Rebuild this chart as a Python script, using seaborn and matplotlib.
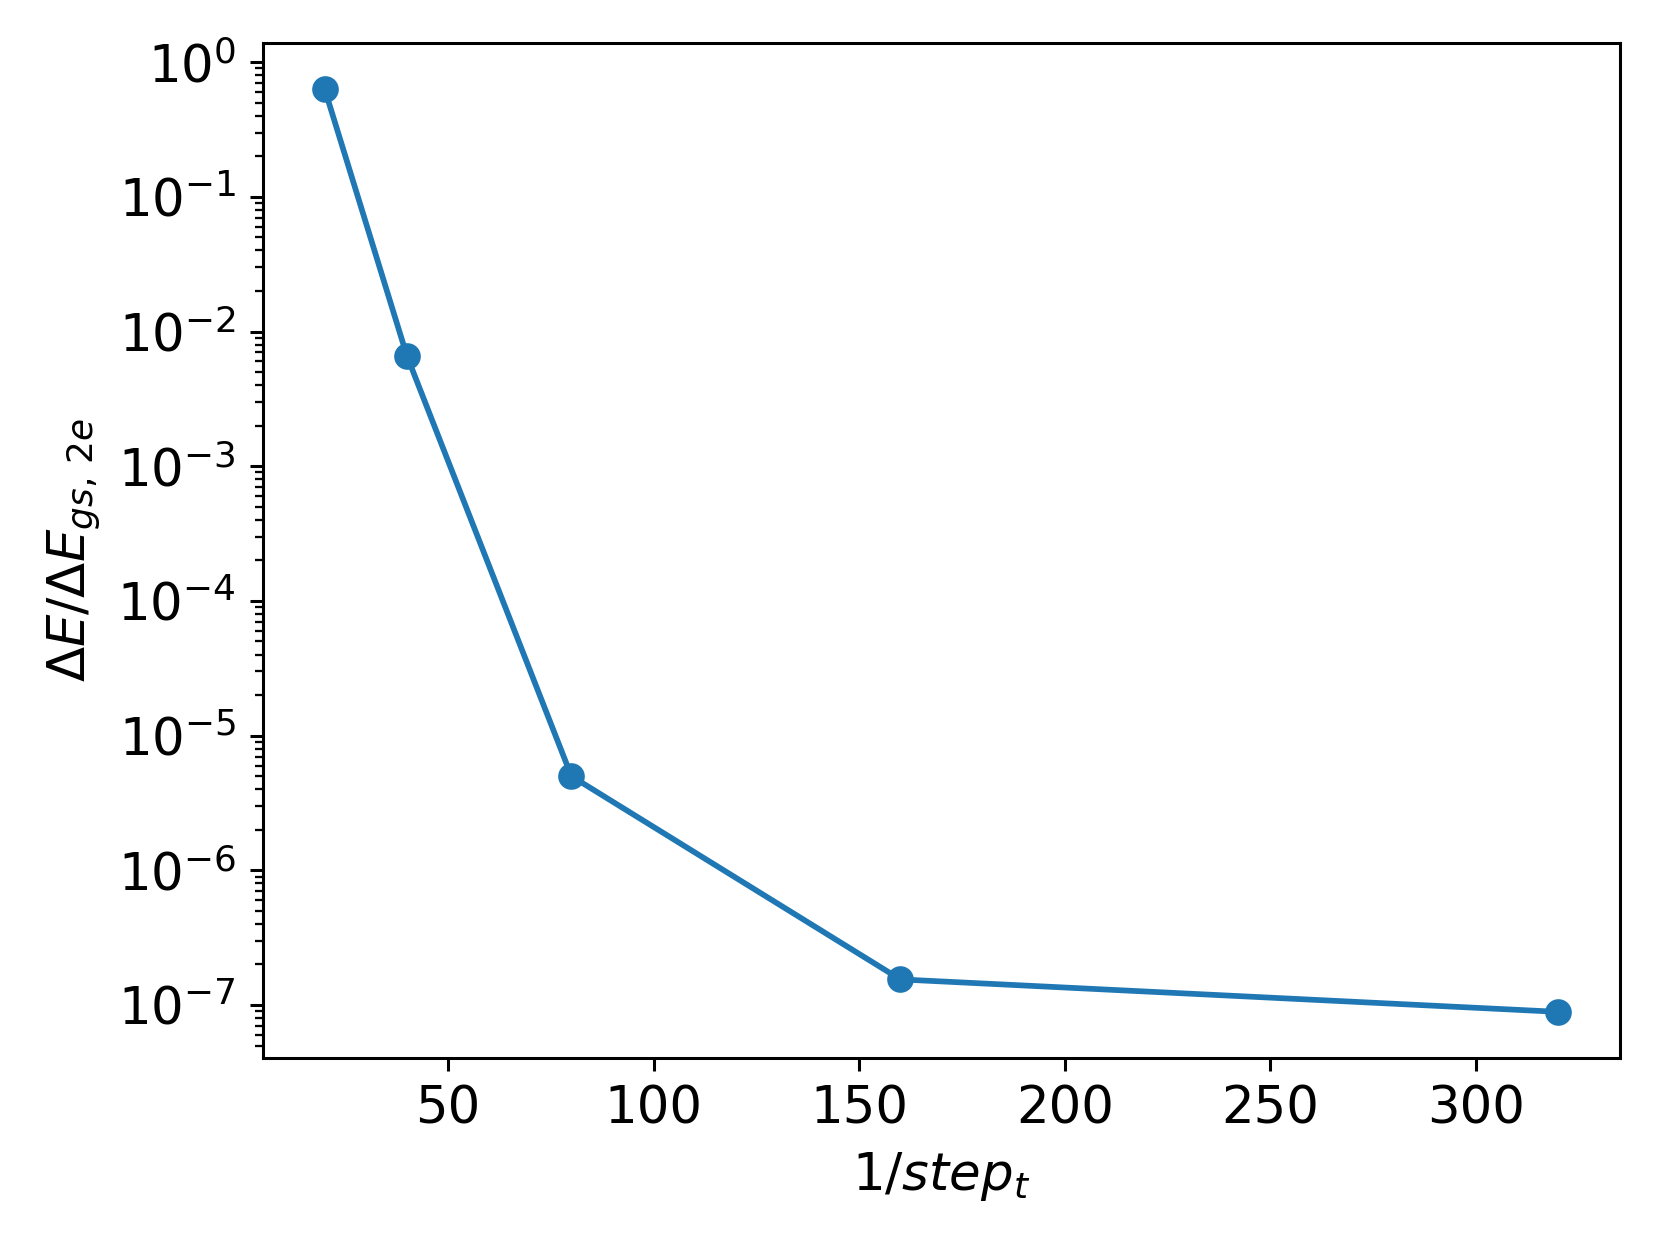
import numpy as np
import pandas as pd
import matplotlib
matplotlib.use('Agg')
import matplotlib.pyplot as plt
import seaborn as sns

# ─── data ────────────────────────────────────────────────
inv_step = [20, 40, 80, 160, 320]
rel_err = [0.63, 0.0066, 5.0e-6, 1.55e-7, 8.9e-8]

df = pd.DataFrame({'inv_step': inv_step, 'rel_err': rel_err})

DPI = 274
FS = 13.5
fig = plt.figure(figsize=(1661 / DPI, 1244 / DPI), dpi=DPI)
ax = fig.add_axes([263 / 1661, 1 - 1058 / 1244, (1620 - 263) / 1661, (1058 - 43) / 1244])

sns.lineplot(data=df, x='inv_step', y='rel_err', marker='o', color='C0',
             markersize=6, markeredgecolor='C0', markeredgewidth=1,
             linewidth=1.5, ax=ax)
ax.set_yscale('log')
ax.set_xticks([50, 100, 150, 200, 250, 300])
ax.tick_params(labelsize=FS)
ax.set_xlabel(r'$1/step_t$', fontsize=FS)
ax.set_ylabel(r'$\Delta E/\Delta E_{gs,\,2e}$', fontsize=FS)

fig.savefig('out.png', dpi=DPI)
